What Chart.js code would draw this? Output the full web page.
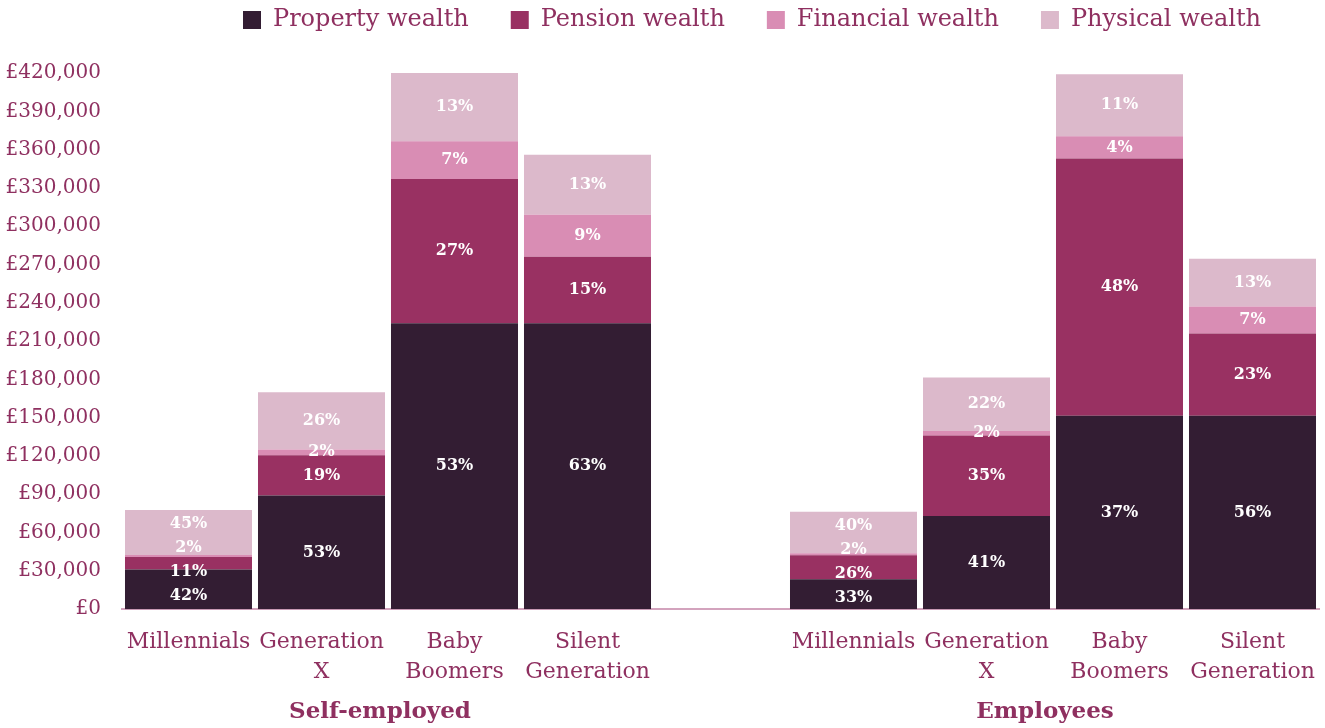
<!DOCTYPE html>
<html lang="en">
<head>
  <meta charset="UTF-8">
  <title>Wealth by generation</title>
  <script src="https://cdn.jsdelivr.net/npm/chart.js"></script>
  <style>
    html, body { margin: 0; padding: 0; background: #fff; overflow: hidden; }
    #wrap { width: 1325px; height: 728px; position: relative; }
    canvas { display: block; }
  </style>
</head>
<body>
  <div id="wrap"><canvas id="chart"></canvas></div>

  <script>
    // categories (empty slot separates the two groups)
    const categories = [['Millennials'], ['Generation', 'X'], ['Baby', 'Boomers'], ['Silent', 'Generation'], '',
                        ['Millennials'], ['Generation', 'X'], ['Baby', 'Boomers'], ['Silent', 'Generation']];
    const groupNames = ['Self-employed', 'Employees'];
    const seriesNames = ['Property wealth', 'Pension wealth', 'Financial wealth', 'Physical wealth'];

    // £ values
    const property  = [31000, 89000, 224000, 224000, null, 23500, 73000, 151500, 151500];
    const pension   = [9800, 31500, 113000, 52000, null, 18700, 63000, 201500, 64500];
    const financial = [1600, 4500, 29500, 33000, null, 1500, 3500, 17500, 21000];
    const physical  = [35300, 45000, 53500, 47000, null, 32700, 42000, 48500, 37500];

    // percentage labels printed inside the bars
    const propertyPct  = [42, 53, 53, 63, null, 33, 41, 37, 56];
    const pensionPct   = [11, 19, 27, 15, null, 26, 35, 48, 23];
    const financialPct = [2, 2, 7, 9, null, 2, 2, 4, 7];
    const physicalPct  = [45, 26, 13, 13, null, 40, 22, 11, 13];

    const yTicks = [0, 30000, 60000, 90000, 120000, 150000, 180000, 210000, 240000, 270000, 300000, 330000, 360000, 390000, 420000];

    const colors = ['#331d33', '#993162', '#d98db4', '#dcb9cb'];
    const textColor = '#8f3060';
    const pctSeries = [propertyPct, pensionPct, financialPct, physicalPct];

    Chart.defaults.font.family = '"DejaVu Serif", serif';

    // percent labels, pushed apart where segments are thin
    const pctLabels = {
      id: 'pctLabels',
      afterDatasetsDraw(chart) {
        const ctx = chart.ctx;
        const GAP = 24;
        ctx.save();
        ctx.font = 'bold 16px "DejaVu Serif"';
        ctx.fillStyle = '#ffffff';
        ctx.textAlign = 'center';
        ctx.textBaseline = 'middle';
        for (let i = 0; i < categories.length; i++) {
          const items = [];
          chart.data.datasets.forEach((ds, d) => {
            const bar = chart.getDatasetMeta(d).data[i];
            if (!bar || ds.data[i] == null) return;
            items.push({ x: bar.x, y: (bar.y + bar.base) / 2, top: bar.y, bottom: bar.base, text: pctSeries[d][i] + '%' });
          });
          if (!items.length) continue;
          const lo = Math.min(...items.map(t => t.top)) + 10;
          const hi = Math.max(...items.map(t => t.bottom)) - 7;
          for (let k = 0; k < 80; k++) {
            for (let j = 0; j < items.length - 1; j++) {
              const a = items[j], b = items[j + 1];
              const gap = a.y - b.y;
              if (gap < GAP) {
                const s = (GAP - gap) / 2;
                a.y += s;
                b.y -= s;
              }
            }
            items.forEach(t => { t.y = Math.max(lo, Math.min(hi, t.y)); });
          }
          items.forEach(t => ctx.fillText(t.text, t.x, t.y));
        }
        ctx.restore();
      }
    };

    // group titles under the category labels
    const groupLabels = {
      id: 'groupLabels',
      afterDraw(chart) {
        const ctx = chart.ctx;
        const x = chart.scales.x;
        const spans = [[0, 3], [5, 8]];
        ctx.save();
        ctx.font = 'bold 23px "DejaVu Serif"';
        ctx.fillStyle = textColor;
        ctx.textAlign = 'center';
        ctx.textBaseline = 'middle';
        spans.forEach((s, g) => {
          const cx = (x.getPixelForValue(s[0]) + x.getPixelForValue(s[1])) / 2 - 8;
          ctx.fillText(groupNames[g], cx, chart.height - 16);
        });
        ctx.restore();
      }
    };

    // room between the legend and the plot, legend row ends a bit before the edge
    const legendSpace = {
      id: 'legendSpace',
      beforeInit(chart) {
        const fit = chart.legend.fit;
        chart.legend.fit = function () {
          fit.bind(chart.legend)();
          this.height = 107;
        };
      },
      beforeDraw(chart) {
        chart.legend.right = chart.width - 22;
      }
    };

    new Chart(document.getElementById('chart'), {
      type: 'bar',
      data: {
        labels: categories,
        datasets: [property, pension, financial, physical].map((values, i) => ({
          label: seriesNames[i],
          data: values,
          backgroundColor: colors[i],
          borderWidth: 0,
          categoryPercentage: 1,
          barPercentage: 0.955
        }))
      },
      options: {
        responsive: true,
        maintainAspectRatio: false,
        animation: false,
        layout: { padding: { top: -34, right: 6, bottom: 23, left: 0 } },
        plugins: {
          legend: {
            position: 'top',
            align: 'end',
            labels: {
              boxWidth: 18,
              boxHeight: 18,
              padding: 42,
              color: textColor,
              font: { size: 24 }
            }
          },
          tooltip: { enabled: false }
        },
        scales: {
          x: {
            stacked: true,
            afterFit(axis) { axis.paddingRight = 0; axis.paddingLeft = 0; },
            grid: { display: false, drawTicks: false },
            border: { display: true, color: '#d3a3bd', width: 2 },
            ticks: {
              color: textColor,
              font: { size: 22, lineHeight: 1.36 },
              padding: 18,
              maxRotation: 0,
              autoSkip: false
            }
          },
          y: {
            stacked: true,
            min: 0,
            max: 420000,
            afterBuildTicks(axis) { axis.ticks = yTicks.map(v => ({ value: v })); },
            afterFit(axis) { axis.width = 122; },
            grid: { display: false, drawTicks: false },
            border: { display: false },
            ticks: {
              color: textColor,
              font: { size: 20 },
              padding: 21,
              callback: v => '£' + v.toLocaleString('en-GB')
            }
          }
        }
      },
      plugins: [pctLabels, groupLabels, legendSpace]
    });
  </script>
</body>
</html>
